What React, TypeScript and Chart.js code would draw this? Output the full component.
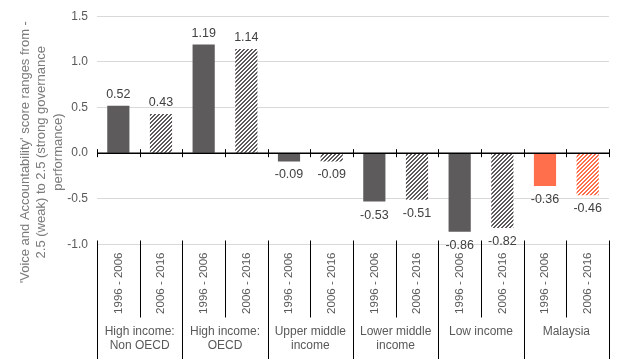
import React, { useEffect, useRef } from "react";
import { Chart, registerables } from "chart.js";

Chart.register(...registerables);

const groups: string[][] = [
  ["High income:", "Non OECD"],
  ["High income:", "OECD"],
  ["Upper middle", "income"],
  ["Lower middle", "income"],
  ["Low income"],
  ["Malaysia"],
];
const periods: string[] = ["1996 - 2006", "2006 - 2016"];
const values: number[] = [0.52, 0.43, 1.19, 1.14, -0.09, -0.09, -0.53, -0.51, -0.86, -0.82, -0.36, -0.46];
const yTicks: number[] = [-1.0, -0.5, 0.0, 0.5, 1.0, 1.5];
const yTitle: string[] = [
  "'Voice and Accountability' score ranges from -",
  "2.5 (weak) to 2.5 (strong governance",
  "performance)",
];

const DARK = "#5e5b5d";
const ORANGE = "#ff6f4b";
const FONT = "'Liberation Sans', Arial, sans-serif";

function makeHatch(ctx: CanvasRenderingContext2D, color: string) {
  const c = document.createElement("canvas");
  c.width = 4;
  c.height = 4;
  const g = c.getContext("2d")!;
  g.fillStyle = "#ffffff";
  g.fillRect(0, 0, 4, 4);
  g.fillStyle = color;
  for (let x = 0; x < 4; x++) {
    for (let y = 0; y < 4; y++) {
      if ((x + y) % 4 < 2) g.fillRect(x, y, 1, 1);
    }
  }
  return ctx.createPattern(c, "repeat")!;
}

export default function App() {
  const ref = useRef<HTMLCanvasElement | null>(null);

  useEffect(() => {
    const canvas = ref.current!;
    const ctx = canvas.getContext("2d")!;
    Chart.defaults.font.family = FONT;
    Chart.defaults.font.size = 12;
    Chart.defaults.color = "#595959";

    const labels: string[] = [];
    groups.forEach(() => periods.forEach((p) => labels.push(p)));
    const hatchDark = makeHatch(ctx, DARK);
    const hatchOrange = makeHatch(ctx, ORANGE);
    const colors = values.map((_, i) => {
      const isMalaysia = Math.floor(i / periods.length) === groups.length - 1;
      const hatched = i % periods.length === 1;
      if (isMalaysia) return hatched ? hatchOrange : ORANGE;
      return hatched ? hatchDark : DARK;
    });

    const decor = {
      id: "decor",
      afterDatasetsDraw(chart: any) {
        const c = chart.ctx as CanvasRenderingContext2D;
        const x = chart.scales.x;
        const y = chart.scales.y;
        const x2 = chart.scales.x2;
        const area = chart.chartArea;
        const n = labels.length;
        const slot = (area.right - area.left) / n;
        const y0 = y.getPixelForValue(0);
        const yb = y.getPixelForValue(-1);
        c.save();
        // zero line
        c.strokeStyle = "#000000";
        c.lineWidth = 1.5;
        c.beginPath();
        c.moveTo(area.left, y0);
        c.lineTo(area.right, y0);
        c.stroke();
        c.lineWidth = 1;
        for (let i = 0; i <= n; i++) {
          const px = Math.round(x.getPixelForValue(i) - slot / 2) + 0.5;
          c.beginPath();
          c.moveTo(px, y0 - 4);
          c.lineTo(px, y0 + 4);
          c.stroke();
          const isGroup = i % periods.length === 0;
          c.beginPath();
          c.moveTo(px, yb - 4);
          c.lineTo(px, isGroup ? x2.bottom : x.bottom + 1);
          c.stroke();
        }
        // value labels
        const meta = chart.getDatasetMeta(0);
        c.fillStyle = "#404040";
        c.font = "12.5px " + FONT;
        c.textAlign = "center";
        c.textBaseline = "alphabetic";
        meta.data.forEach((bar: any, i: number) => {
          const v = values[i];
          const ty = v >= 0 ? bar.y - 8 : bar.y + 17;
          c.fillText(v.toFixed(2), bar.x, ty);
        });
        // y title
        c.fillStyle = "#7a7a7a";
        c.font = "13px " + FONT;
        c.textBaseline = "middle";
        const cy = y0 - 1;
        yTitle.forEach((line, k) => {
          c.save();
          c.translate(25 + k * 16.5, cy);
          c.rotate(-Math.PI / 2);
          c.fillText(line, 0, 0);
          c.restore();
        });
        c.restore();
      },
    };

    const chart = new Chart(canvas, {
      type: "bar",
      data: {
        labels,
        datasets: [
          {
            data: values,
            backgroundColor: colors as any,
            borderWidth: 0,
            barPercentage: 0.52,
            categoryPercentage: 1,
          },
        ],
      },
      options: {
        responsive: false,
        animation: false,
        layout: { padding: { left: 0, right: 15, top: 15, bottom: 0 } },
        plugins: { legend: { display: false }, tooltip: { enabled: false } },
        scales: {
          x: {
            type: "category",
            position: "bottom",
            weight: 0,
            grid: { display: false, drawTicks: false },
            border: { display: false },
            ticks: {
              autoSkip: false,
              minRotation: 90,
              maxRotation: 90,
              padding: 8,
              color: "#595959",
              font: { size: 11.5 },
            },
            afterFit: (s: any) => {
              s.height = 72;
            },
          },
          x2: {
            type: "category",
            position: "bottom",
            weight: 1,
            labels: groups as any,
            offset: true,
            grid: { display: false, drawTicks: false },
            border: { display: false },
            ticks: {
              autoSkip: false,
              maxRotation: 0,
              minRotation: 0,
              padding: 8,
              color: "#595959",
              font: { size: 12 },
            },
            afterFit: (s: any) => {
              s.height = 42.5;
            },
          },
          y: {
            type: "linear",
            min: yTicks[0],
            max: yTicks[yTicks.length - 1],
            afterBuildTicks: (s: any) => {
              s.ticks = yTicks.map((v) => ({ value: v }));
            },
            grid: {
              drawTicks: false,
              color: (c: any) => (c.tick && c.tick.value === 0 ? "rgba(0,0,0,0)" : "#d9d9d9"),
            },
            border: { display: false },
            ticks: {
              padding: 9,
              color: "#595959",
              font: { size: 12 },
              callback: (v: any) => Number(v).toFixed(1),
            },
            afterFit: (s: any) => {
              s.width = 97;
            },
          },
        },
      },
      plugins: [decor],
    });
    return () => chart.destroy();
  }, []);

  return (
    <div style={{ position: "fixed", left: 0, top: 0, width: 624, height: 359, background: "#fff" }}>
      <canvas ref={ref} width={624} height={359} style={{ display: "block" }} />
    </div>
  );
}
